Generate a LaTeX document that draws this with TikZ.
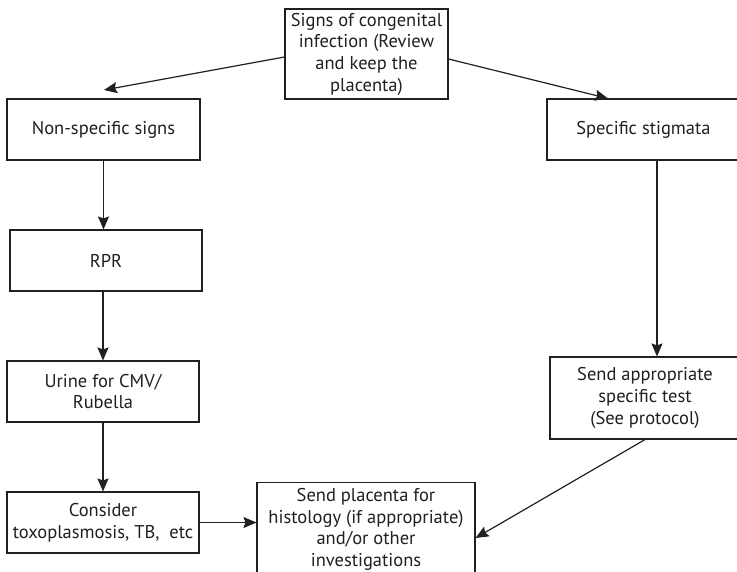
\documentclass[tikz,border=0pt]{standalone}
\usepackage{fontspec}
\setmainfont{PT Sans}
\usetikzlibrary{arrows.meta}
\definecolor{ink}{HTML}{231F20}
\begin{document}
\begin{tikzpicture}[x=1pt,y=-1pt,
  box/.style={draw=ink, line width=1.1pt, rectangle, align=center, inner sep=0pt,
    font=\fontsize{18.5}{21.7}\selectfont, text=ink},
  arr/.style={draw=ink, line width=1.2pt, -{Stealth[length=13pt,width=11pt,inset=2pt]}}]
\useasboundingbox (0,0) rectangle (737,571);
\fill[white] (0,0) rectangle (737,571);
\clip (0,0) rectangle (737,571);

% boxes
\node[box, minimum width=163pt, minimum height=90pt] (top) at (366.5,54)
  {Signs of congenital\\infection (Review\\and keep the\\placenta)};
\node[box, minimum width=193pt, minimum height=61pt] (nonspec) at (103.5,129.5) {Non-specific signs};
\node[box, minimum width=192pt, minimum height=61pt] (rpr) at (106,260.5) {RPR};
\node[box, minimum width=192pt, minimum height=61pt] (urine) at (103,391.5) {Urine for CMV/\\Rubella};
\node[box, minimum width=192pt, minimum height=61pt] (consider) at (103,522.5) {Consider\\toxoplasmosis, TB,\ \ etc};
\node[box, minimum width=193pt, minimum height=61pt] (stig) at (643.5,129.5) {Specific stigmata};
\node[box, minimum width=190pt, minimum height=82pt] (sendtest) at (645,398)
  {Send appropriate\\specific test\\(See protocol)};
\node[box, minimum width=218pt, minimum height=94pt] (placenta) at (366,529.5)
  {Send placenta for\\histology (if appropriate)\\and/or other\\investigations};

% connectors
\coordinate (nsTip) at (104,90);
\draw[arr] (top.west |- 0,57) -- (nsTip);
\draw[arr] (top.east |- 0,59) -- (608,0 |- stig.north);
\draw[arr] (nonspec.south) -- (nonspec.south |- rpr.north);
\draw[arr] (urine.north |- rpr.south) -- (urine.north);
\draw[arr] (urine.south) -- (consider.north);
\draw[arr] (657,0 |- stig.south) -- (657,0 |- sendtest.north);
\draw[arr] (consider.east) -- (placenta.west |- consider.east);
\draw[arr] (sendtest.south) -- (placenta.east |- 0,538);
\end{tikzpicture}
\end{document}
